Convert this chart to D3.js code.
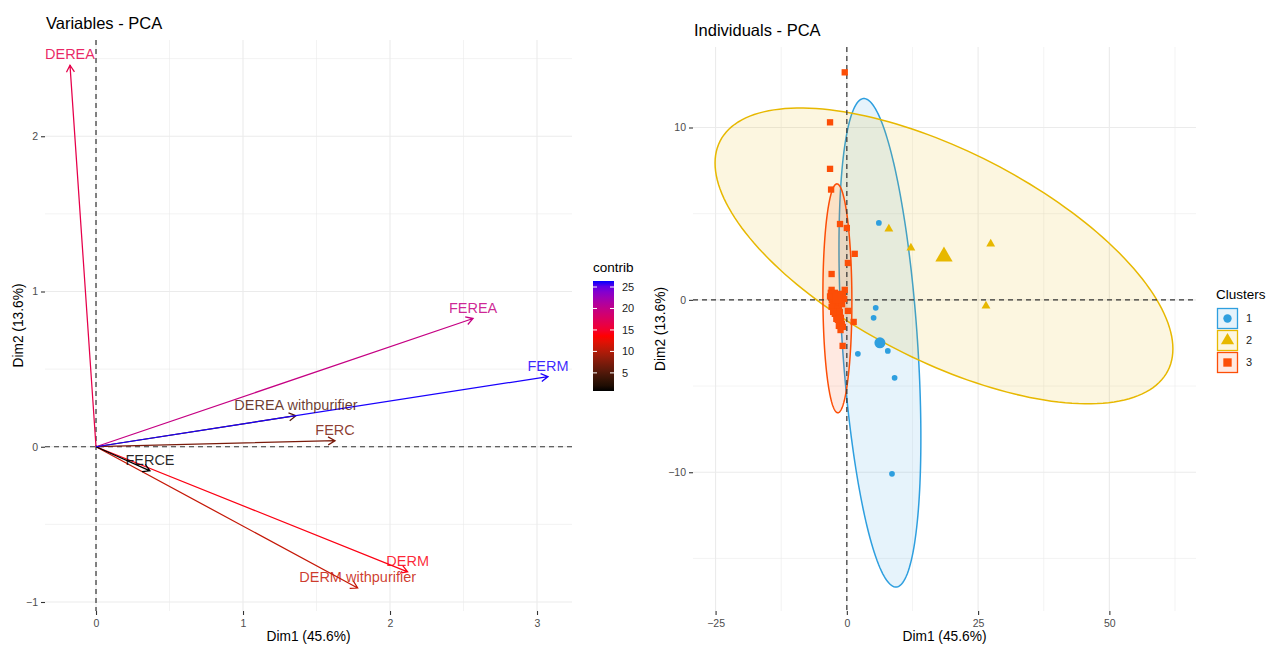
<!DOCTYPE html>
<html><head><meta charset="utf-8">
<script src="https://cdn.jsdelivr.net/npm/d3@7"></script>
<style>
body{margin:0;background:#fff}
text{font-family:"Liberation Sans",Arial,Helvetica,sans-serif}
</style>
</head><body>
<svg id="chart" width="1266" height="645"></svg>
<script>
// ---------- Variables - PCA data ----------
const varNames   = ["DEREA","DEREA withpurifier","DERM","DERM withpurifier","FEREA","FERC","FERCE","FERM"];
const varDim1    = [-0.177, 1.36, 2.12, 1.78, 2.565, 1.626, 0.367, 3.075];
const varDim2    = [2.458, 0.20, -0.806, -0.91, 0.826, 0.039, -0.155, 0.452];
const varContrib = [16.5, 5.1, 14.0, 10.9, 19.7, 7.2, 0.8, 26.3];
const contribTicks = [5, 10, 15, 20, 25];
const leftXTicks = [0, 1, 2, 3];
const leftYTicks = [-1, 0, 1, 2];
const leftXMinor = [0.5, 1.5, 2.5];
const leftYMinor = [-0.5, 0.5, 1.5, 2.5];

// ---------- Individuals - PCA data ----------
const clusterNames  = ["1", "2", "3"];
const clusterColors = ["#2E9FDF", "#E7B800", "#FC4E07"];
const ind1X = [6.1, 5.5, 5.1, 7.8, 2.1, 9.1, 8.6];
const ind1Y = [4.46, -0.46, -1.04, -2.96, -3.13, -4.52, -10.09];
const ind2X = [8.0, 12.2, 27.4, 26.5];
const ind2Y = [4.12, 3.01, 3.25, -0.35];
const ind3X = [-0.4, -3.2, -3.2, -3.0, -1.3, 0.0, 1.5, 0.2, -2.9, -2.9, -0.4, 0.2, 1.3, -0.8,
  -3.05, -2.67, -2.29, -1.90, -1.52, -1.14, -0.76, -2.48, -2.10, -1.71, -1.33, -2.86, -2.67, -2.29, -1.90,
  -1.52, -2.48, -2.10, -1.71, -1.33, -2.29, -1.90, -1.52, -1.14, -1.71, -1.33, -0.95, -1.52, -0.76,
  -3.2, -2.9, -2.6, -0.5, -0.9, -2.0, -1.2];
const ind3Y = [13.2, 10.3, 7.6, 6.4, 4.4, 4.17, 2.67, 2.14, 1.5, 0.58, 0.58, -0.64, -1.28, -2.67,
  0.41, 0.35, 0.41, 0.29, 0.35, 0.23, 0.29, 0.17, 0.06, 0.12, 0.0, 0.0, -0.17, -0.29, -0.17,
  -0.35, -0.46, -0.58, -0.52, -0.70, -0.81, -0.93, -0.87, -1.04, -1.16, -1.28, -1.39, -1.51, -1.57,
  0.20, -0.40, -0.70, 0.05, -0.25, -1.10, -1.75];
const centerX = [6.3, 18.5, -1.8];
const centerY = [-2.49, 2.51, 0.09];
// confidence ellipses: centre, half-extent in x and y, correlation
const ellCx = [6.3, 18.5, -1.8];
const ellCy = [-2.49, 2.55, 0.09];
const ellSx = [7.8, 43.6, 2.76];
const ellSy = [14.17, 8.58, 6.64];
const ellR  = [-0.39, -0.628, -0.03];
const rightXTicks = [-25, 0, 25, 50];
const rightYTicks = [-10, 0, 10];
const rightXMinor = [-12.5, 12.5, 37.5, 62.5];
const rightYMinor = [-15, -5, 5];

const svg = d3.select("#chart");
const GRID = "#ebebeb", TICKTXT = "#4d4d4d";

function gridAndAxes(g, x, y, xt, yt, xm, ym) {
  const [x0, x1] = x.range(), [y1, y0] = y.range();
  g.selectAll(".gxm").data(xm).join("line").attr("x1", d => x(d)).attr("x2", d => x(d))
    .attr("y1", y0).attr("y2", y1).attr("stroke", GRID).attr("stroke-width", 0.6);
  g.selectAll(".gym").data(ym).join("line").attr("y1", d => y(d)).attr("y2", d => y(d))
    .attr("x1", x0).attr("x2", x1).attr("stroke", GRID).attr("stroke-width", 0.6);
  g.selectAll(".gx").data(xt).join("line").attr("x1", d => x(d)).attr("x2", d => x(d))
    .attr("y1", y0).attr("y2", y1).attr("stroke", GRID).attr("stroke-width", 1.1);
  g.selectAll(".gy").data(yt).join("line").attr("y1", d => y(d)).attr("y2", d => y(d))
    .attr("x1", x0).attr("x2", x1).attr("stroke", GRID).attr("stroke-width", 1.1);
  const ax = g.append("g").attr("transform", `translate(0,${y1})`)
    .call(d3.axisBottom(x).tickValues(xt).tickSize(4).tickPadding(3).tickFormat(d3.format("d")));
  const ay = g.append("g").attr("transform", `translate(${x0},0)`)
    .call(d3.axisLeft(y).tickValues(yt).tickSize(4).tickPadding(3).tickFormat(d3.format("d")));
  [ax, ay].forEach(a => {
    a.select(".domain").remove();
    a.selectAll("line").attr("stroke", "#333").attr("stroke-width", 1.1);
    a.selectAll("text").attr("fill", TICKTXT).style("font-size", "10.5px")
      .style("font-family", '"Liberation Sans",Arial,sans-serif');
  });
  ax.selectAll("text").attr("dy", "0.9em");
}
function zeroLines(g, x, y) {
  const [x0, x1] = x.range(), [y1, y0] = y.range();
  g.append("line").attr("x1", x0).attr("x2", x1).attr("y1", y(0)).attr("y2", y(0))
    .attr("stroke", "#333").attr("stroke-width", 1.2).attr("stroke-dasharray", "5,4");
  g.append("line").attr("x1", x(0)).attr("x2", x(0)).attr("y1", y0).attr("y2", y1)
    .attr("stroke", "#333").attr("stroke-width", 1.2).attr("stroke-dasharray", "5,4");
}

// ================= LEFT PANEL =================
const lx = d3.scaleLinear().domain([-0.347, 3.238]).range([45, 572]);
const ly = d3.scaleLinear().domain([-1.058, 2.62]).range([611, 40]);
const L = svg.append("g");
gridAndAxes(L, lx, ly, leftXTicks, leftYTicks, leftXMinor, leftYMinor);
zeroLines(L, lx, ly);

const cMin = 0.78, cMax = 26.4;
const col = d3.scaleLinear().domain([cMin, (cMin + cMax) / 2, cMax])
  .range(["black", "red", "blue"]).interpolate(d3.interpolateLab);

const vars = varNames.map((n, i) => ({ n, x: varDim1[i], y: varDim2[i], c: varContrib[i] }));
vars.forEach(v => {
  const X0 = lx(0), Y0 = ly(0), X1 = lx(v.x), Y1 = ly(v.y);
  const a = Math.atan2(Y1 - Y0, X1 - X0), len = 8, sp = Math.PI / 6;
  const p = d3.path();
  p.moveTo(X0, Y0); p.lineTo(X1, Y1);
  p.moveTo(X1 - len * Math.cos(a - sp), Y1 - len * Math.sin(a - sp));
  p.lineTo(X1, Y1);
  p.lineTo(X1 - len * Math.cos(a + sp), Y1 - len * Math.sin(a + sp));
  L.append("path").attr("d", p.toString()).attr("fill", "none")
    .attr("stroke", col(v.c)).attr("stroke-width", 1.25);
});
vars.forEach(v => {
  L.append("text").attr("x", lx(v.x)).attr("y", ly(v.y) - 6).attr("text-anchor", "middle")
    .attr("fill", col(v.c)).attr("fill-opacity", 0.85).style("font-size", "14.5px").text(v.n);
});
L.append("text").attr("x", 46).attr("y", 29).style("font-size", "16.5px").attr("fill", "#000").text("Variables - PCA");
L.append("text").attr("x", 308.5).attr("y", 641).attr("text-anchor", "middle").style("font-size", "13.75px").text("Dim1 (45.6%)");
L.append("text").attr("transform", "translate(23,325.5) rotate(-90)").attr("text-anchor", "middle").style("font-size", "13.75px").text("Dim2 (13.6%)");

// colour bar legend
const cb = d3.scaleLinear().domain([cMin, cMax]).range([391, 281]);
const defs = svg.append("defs");
const grad = defs.append("linearGradient").attr("id", "cgrad").attr("x1", 0).attr("y1", 1).attr("x2", 0).attr("y2", 0);
d3.range(0, 21).forEach(i => {
  const t = i / 20;
  grad.append("stop").attr("offset", t).attr("stop-color", col(cMin + t * (cMax - cMin)));
});
L.append("text").attr("x", 593).attr("y", 272).style("font-size", "13.5px").text("contrib");
L.append("rect").attr("x", 593).attr("y", 281).attr("width", 21).attr("height", 110).attr("fill", "url(#cgrad)");
contribTicks.forEach(t => {
  L.append("line").attr("x1", 593).attr("x2", 597).attr("y1", cb(t)).attr("y2", cb(t)).attr("stroke", "#fff").attr("stroke-width", 1);
  L.append("line").attr("x1", 610).attr("x2", 614).attr("y1", cb(t)).attr("y2", cb(t)).attr("stroke", "#fff").attr("stroke-width", 1);
  L.append("text").attr("x", 622).attr("y", cb(t)).attr("dy", "0.35em").style("font-size", "11px").attr("fill", "#222").text(t);
});

// ================= RIGHT PANEL =================
const rx = d3.scaleLinear().domain([-29.3, 66.5]).range([693, 1196]);
const ry = d3.scaleLinear().domain([-18.05, 14.67]).range([611, 47]);
const R = svg.append("g");
gridAndAxes(R, rx, ry, rightXTicks, rightYTicks, rightXMinor, rightYMinor);

// ellipses
const angles = d3.range(0, 2 * Math.PI + 0.001, Math.PI / 90);
clusterNames.forEach((c, i) => {
  const pts = angles.map(t => [
    ellCx[i] + ellSx[i] * Math.cos(t),
    ellCy[i] + ellSy[i] * (ellR[i] * Math.cos(t) + Math.sqrt(1 - ellR[i] * ellR[i]) * Math.sin(t))
  ]);
  R.append("path").attr("d", d3.line().x(d => rx(d[0])).y(d => ry(d[1])).curve(d3.curveLinearClosed)(pts))
    .attr("fill", clusterColors[i]).attr("fill-opacity", 0.12)
    .attr("stroke", clusterColors[i]).attr("stroke-width", 1.5);
});
zeroLines(R, rx, ry);

const sym = [d3.symbolCircle, d3.symbolTriangle, d3.symbolSquare];
const ptSize = [26, 34, 40];
const cenSize = [95, 130, 110];
const indX = [ind1X, ind2X, ind3X], indY = [ind1Y, ind2Y, ind3Y];
clusterNames.forEach((c, i) => {
  R.append("g").selectAll("path").data(indX[i].map((x, j) => [x, indY[i][j]])).join("path")
    .attr("transform", d => `translate(${rx(d[0])},${ry(d[1])})`)
    .attr("d", d3.symbol().type(sym[i]).size(ptSize[i])())
    .attr("fill", clusterColors[i]);
});
clusterNames.forEach((c, i) => {
  R.append("path").attr("transform", `translate(${rx(centerX[i])},${ry(centerY[i])})`)
    .attr("d", d3.symbol().type(sym[i]).size(cenSize[i])()).attr("fill", clusterColors[i]);
});

R.append("text").attr("x", 694).attr("y", 36).style("font-size", "16.5px").text("Individuals - PCA");
R.append("text").attr("x", 944.5).attr("y", 641).attr("text-anchor", "middle").style("font-size", "13.75px").text("Dim1 (45.6%)");
R.append("text").attr("transform", "translate(665,329) rotate(-90)").attr("text-anchor", "middle").style("font-size", "13.75px").text("Dim2 (13.6%)");

// cluster legend
R.append("text").attr("x", 1216).attr("y", 299).style("font-size", "13.5px").text("Clusters");
clusterNames.forEach((c, i) => {
  const top = 308 + i * 22;
  R.append("rect").attr("x", 1217.5).attr("y", top + 0.5).attr("width", 20).attr("height", 20)
    .attr("fill", clusterColors[i]).attr("fill-opacity", 0.12)
    .attr("stroke", clusterColors[i]).attr("stroke-width", 1.3);
  R.append("path").attr("transform", `translate(1227.5,${top + 10.5})`)
    .attr("d", d3.symbol().type(sym[i]).size([55, 75, 70][i])()).attr("fill", clusterColors[i]);
  R.append("text").attr("x", 1246).attr("y", top + 10.5).attr("dy", "0.35em").style("font-size", "11px").attr("fill", "#222").text(c);
});
</script>
</body></html>
